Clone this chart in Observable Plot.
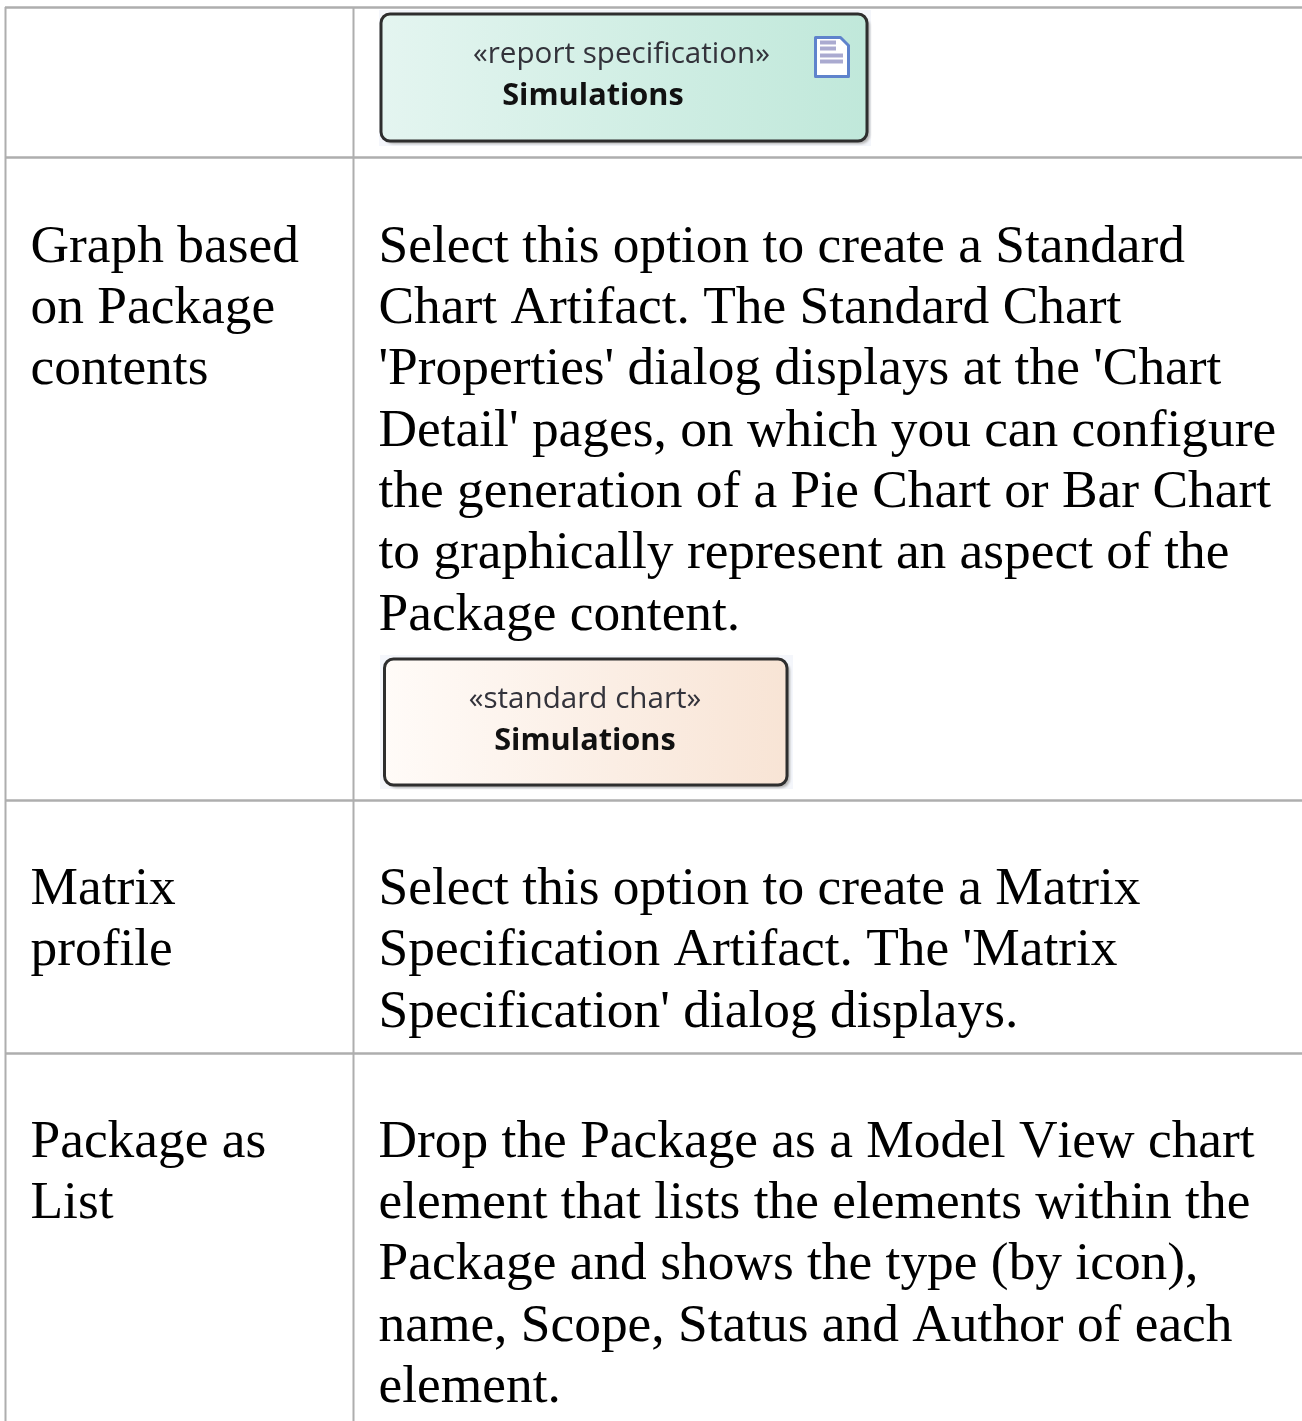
<!DOCTYPE html>
<html>
<head>
<meta charset="utf-8">
<script src="https://cdn.jsdelivr.net/npm/d3@7"></script>
<script src="https://cdn.jsdelivr.net/npm/@observablehq/plot@0.6"></script>
<style>html,body{margin:0;padding:0;background:#fff}svg{display:block}</style>
</head>
<body>
<script>
const leftCells = [
  [],
  ["Graph based", "on Package", "contents"],
  ["Matrix", "profile"],
  ["Package as", "List"]
];
const rightCells = [
  [],
  ["Select this option to create a Standard", "Chart Artifact. The Standard Chart", "'Properties' dialog displays at the 'Chart", "Detail' pages, on which you can configure", "the generation of a Pie Chart or Bar Chart", "to graphically represent an aspect of the", "Package content."],
  ["Select this option to create a Matrix", "Specification Artifact. The 'Matrix", "Specification' dialog displays."],
  ["Drop the Package as a Model View chart", "element that lists the elements within the", "Package and shows the type (by icon),", "name, Scope, Status and Author of each", "element."]
];
const rowEdges = [7, 157, 800, 1053];
const colEdges = [5, 353];
const firstBaselines = [0, 261, 903.5, 1156];
const linePitch = 61.35;
const textX = [30, 378];

const boxes = [
  {x1: 381, x2: 867, y1: 14, y2: 141, bx1: 379, bx2: 871, by1: 10, by2: 146, fill: "url(#greenGrad)", stereo: "«report specification»", stereoX: 621, stereoY: 53, name: "Simulations", nameX: 592.5, nameY: 95},
  {x1: 384.5, x2: 787, y1: 659, y2: 785, bx1: 380, bx2: 793, by1: 655, by2: 789, fill: "url(#peachGrad)", stereo: "«standard chart»", stereoX: 584.5, stereoY: 698, name: "Simulations", nameX: 584.5, nameY: 740}
];

const lines = [];
[leftCells, rightCells].forEach((cells, c) => cells.forEach((cell, r) => cell.forEach((t, i) =>
  lines.push({t, x: textX[c], y: firstBaselines[r] + i * linePitch}))));

const gradients = () => {
  const defs = d3.create("svg:defs");
  const add = (id, a, b) => {
    const g = defs.append("linearGradient").attr("id", id);
    g.append("stop").attr("offset", "0%").attr("stop-color", a);
    g.append("stop").attr("offset", "100%").attr("stop-color", b);
  };
  add("greenGrad", "#e4f5f0", "#c0e8da");
  add("peachGrad", "#fffbf8", "#f8e4d5");
  return defs.node();
};

const iconOutline = [[815, 37], [840, 37], [848, 45], [848, 76], [815, 76], [815, 37]];
const iconLines = [[820, 836, 42], [820, 836, 48], [820, 843, 55], [820, 843, 61]];

const chart = Plot.plot({
  width: 1302, height: 1421,
  margin: 0,
  style: {fontKerning: "none"},
  x: {domain: [0, 1302], range: [0, 1302], axis: null},
  y: {domain: [0, 1421], range: [0, 1421], axis: null},
  marks: [
    gradients,
    Plot.ruleY(rowEdges, {x1: colEdges[0], x2: 1302, stroke: "#aeaeae", strokeWidth: 2.5}),
    Plot.ruleX(colEdges, {y1: rowEdges[0], y2: 1421, stroke: "#aeaeae", strokeWidth: 2}),
    Plot.rect(boxes, {x1: "bx1", x2: "bx2", y1: "by1", y2: "by2", fill: "#f4f6fb"}),
    Plot.rect(boxes, {x1: d => d.x1 + 3, x2: d => d.x2 + 3, y1: d => d.y1 + 3, y2: d => d.y2 + 3, fill: "#b5b5b5", rx: 9, imageFilter: "blur(1px)"}),
    Plot.rect(boxes, {x1: "x1", x2: "x2", y1: "y1", y2: "y2", fill: "fill", stroke: "#2e2e2e", strokeWidth: 3, rx: 9, imageFilter: "blur(0.5px)"}),
    Plot.text(boxes, {x: "stereoX", y: "stereoY", text: "stereo", fontFamily: "Open Sans", fontSize: 29.6, fill: "#33333b", textAnchor: "middle", imageFilter: "blur(0.4px)"}),
    Plot.text(boxes, {x: "nameX", y: "nameY", text: "name", fontFamily: "Open Sans", fontSize: 30.7, fontWeight: 700, fill: "#111", textAnchor: "middle", imageFilter: "blur(0.4px)"}),
    Plot.line(iconOutline, {x: "0", y: "1", fill: "#fff", stroke: "#5f83cc", strokeWidth: 3, imageFilter: "blur(0.5px)"}),
    Plot.ruleY(iconLines, {x1: "0", x2: "1", y: "2", stroke: "#aaaad0", strokeWidth: 4}),
    Plot.text(lines, {x: "x", y: "y", text: "t", textAnchor: "start", lineAnchor: "bottom", fontFamily: "Liberation Serif", fontSize: 53.4, fill: "#000"})
  ]
});
document.body.appendChild(chart);
</script>
</body>
</html>
